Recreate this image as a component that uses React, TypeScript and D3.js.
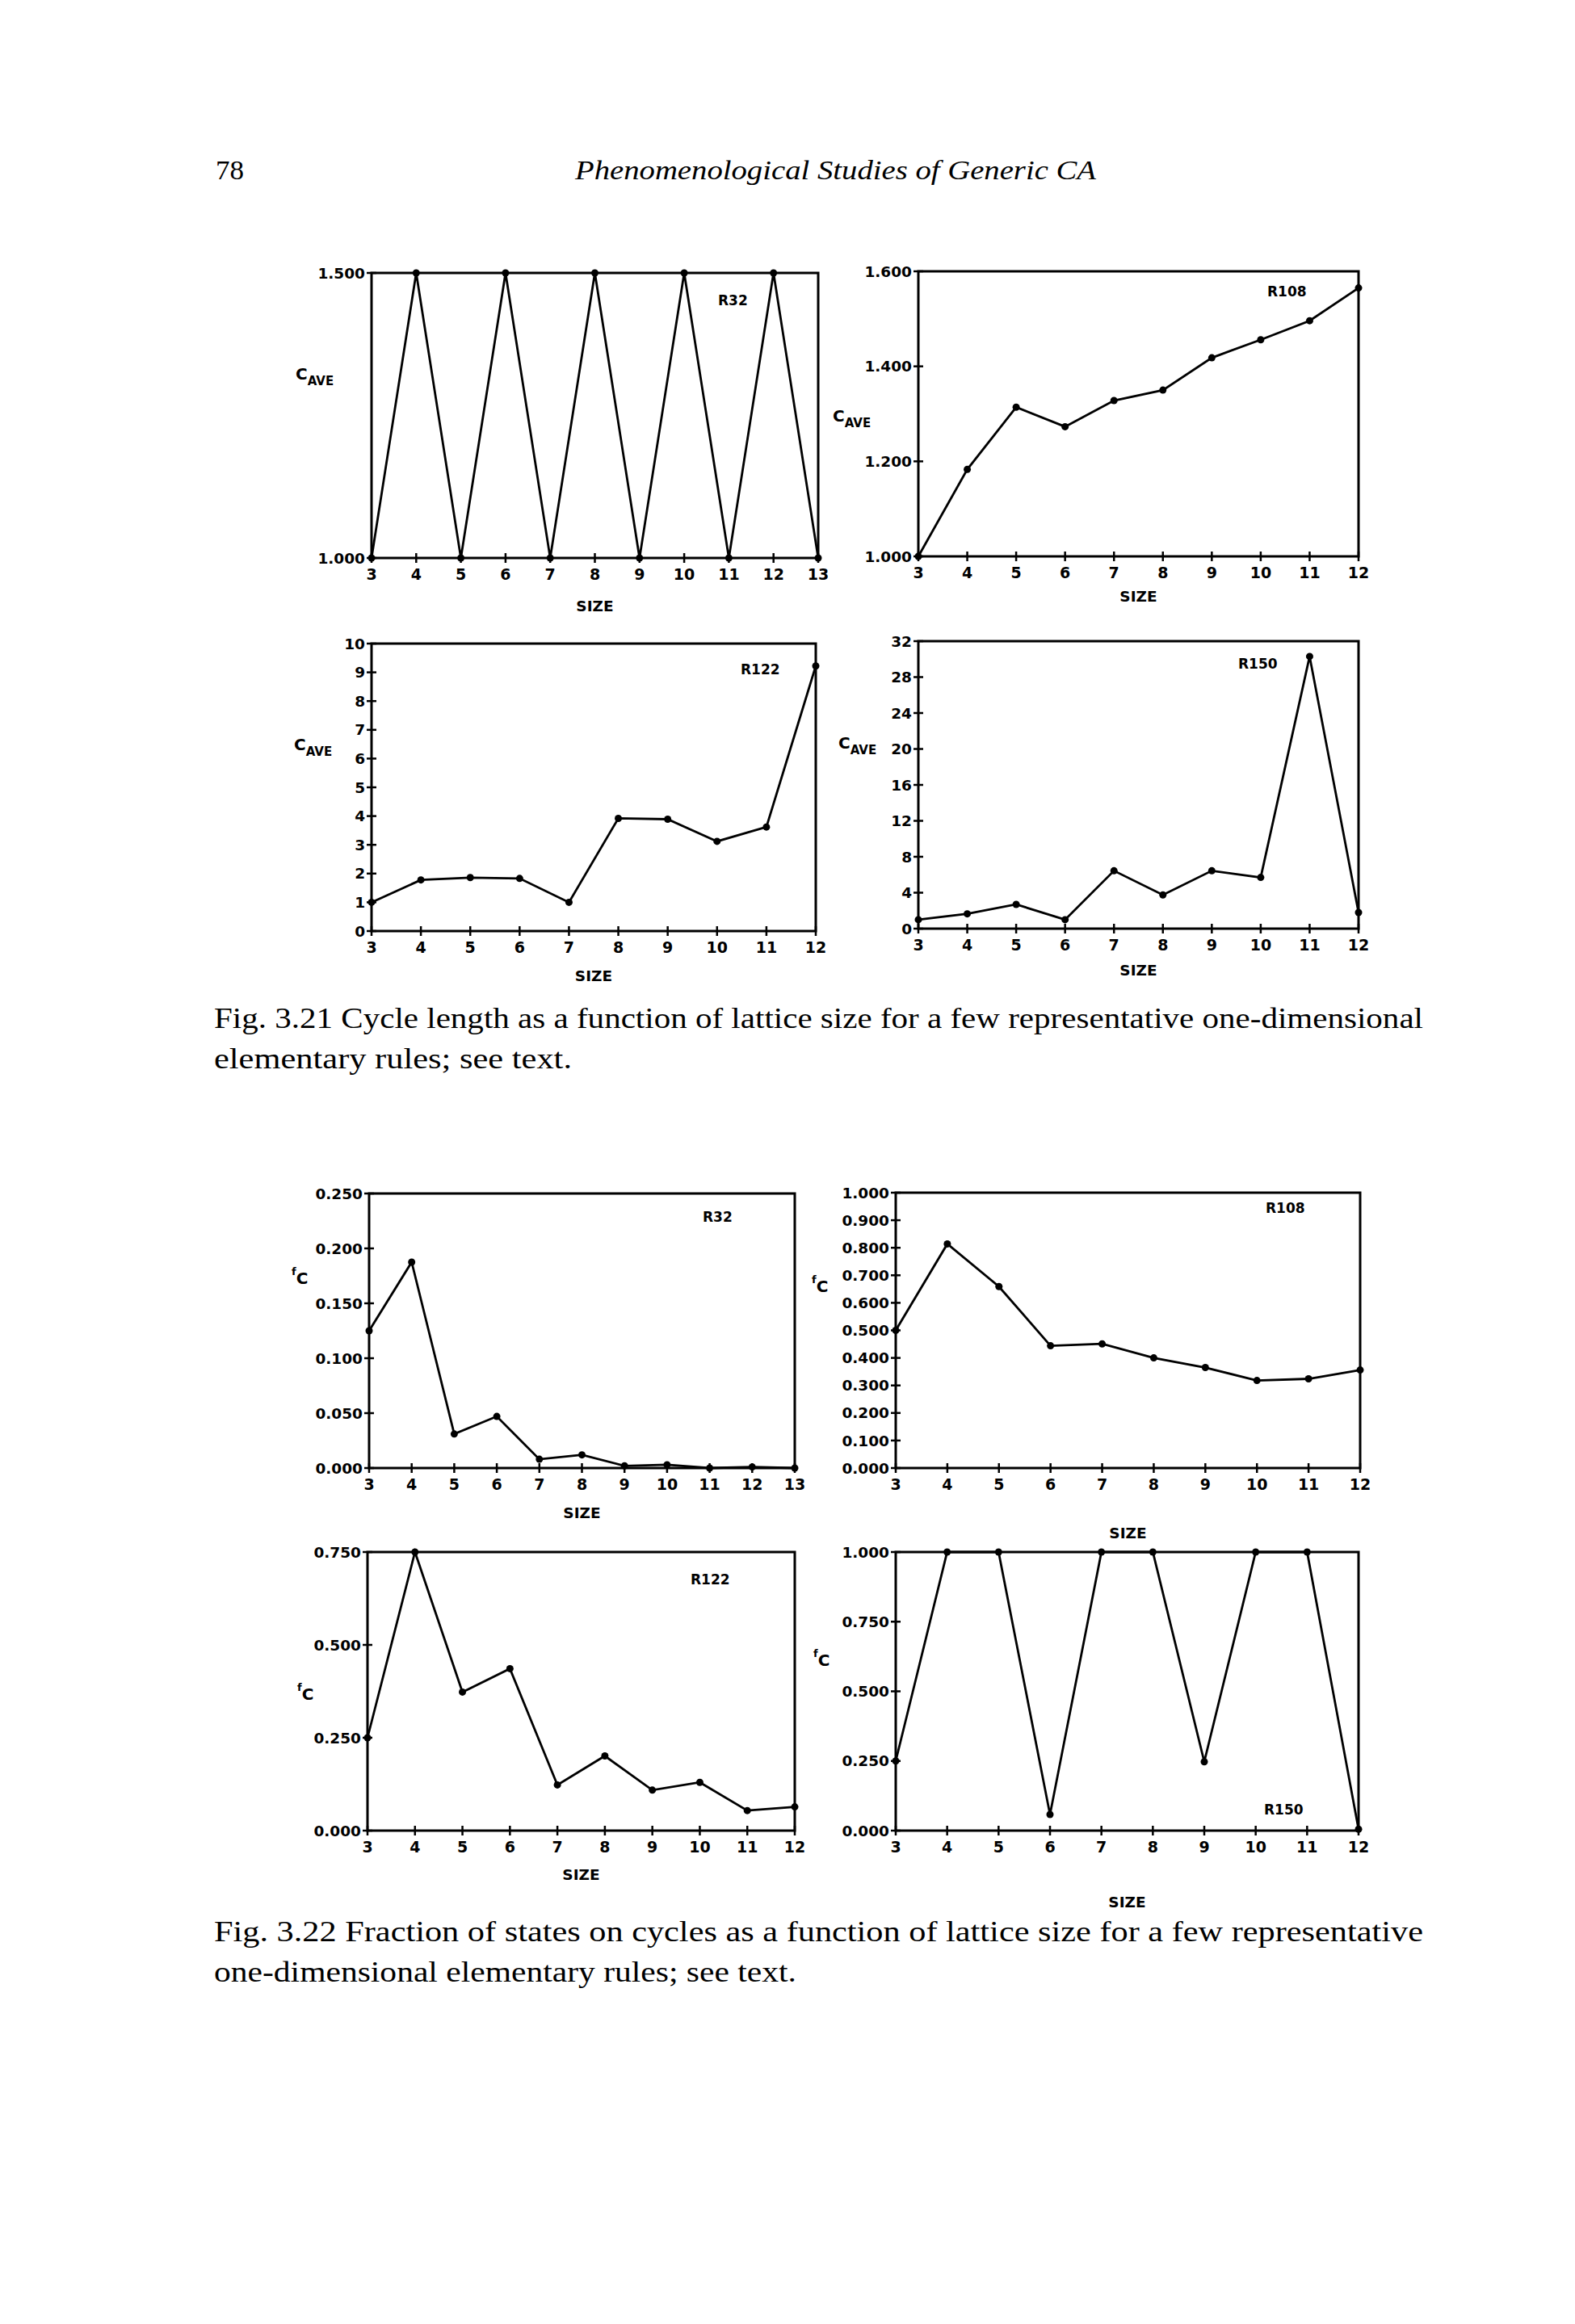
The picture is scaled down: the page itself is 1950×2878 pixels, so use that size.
import React from "react";
import * as d3 from "d3";

// ---------- data ----------
const sizes3to13 = [3, 4, 5, 6, 7, 8, 9, 10, 11, 12, 13];
const sizes3to12 = [3, 4, 5, 6, 7, 8, 9, 10, 11, 12];

// Fig 3.21 : average cycle length
const r32Cycle = [1.0, 1.5, 1.0, 1.5, 1.0, 1.5, 1.0, 1.5, 1.0, 1.5, 1.0];
const r108Cycle = [1.0, 1.183, 1.314, 1.273, 1.328, 1.35, 1.418, 1.456, 1.496, 1.565];
const r122Cycle = [1.0, 1.78, 1.86, 1.83, 1.0, 3.92, 3.89, 3.12, 3.62, 9.22];
const r150Cycle = [1.0, 1.65, 2.7, 1.0, 6.44, 3.75, 6.44, 5.7, 30.3, 1.8];

// Fig 3.22 : fraction of states on cycles
const r32Frac = [0.125, 0.1875, 0.031, 0.047, 0.008, 0.012, 0.002, 0.003, 0.0, 0.001, 0.0];
const r108Frac = [0.5, 0.814, 0.659, 0.444, 0.451, 0.4, 0.365, 0.318, 0.324, 0.356];
const r122Frac = [0.25, 0.75, 0.373, 0.436, 0.123, 0.201, 0.109, 0.13, 0.054, 0.064];
const r150Frac = [0.25, 1.0, 1.0, 0.058, 1.0, 1.0, 0.247, 1.0, 1.0, 0.005];

// tick values
const p1YTicks = [1.0, 1.5];
const p2YTicks = [1.0, 1.2, 1.4, 1.6];
const p3YTicks = [0, 1, 2, 3, 4, 5, 6, 7, 8, 9, 10];
const p4YTicks = [0, 4, 8, 12, 16, 20, 24, 28, 32];
const p5YTicks = [0, 0.05, 0.1, 0.15, 0.2, 0.25];
const p6YTicks = [0, 0.1, 0.2, 0.3, 0.4, 0.5, 0.6, 0.7, 0.8, 0.9, 1.0];
const p7YTicks = [0, 0.25, 0.5, 0.75];
const p8YTicks = [0, 0.25, 0.5, 0.75, 1.0];

const headerPage = "78";
const headerTitle = "Phenomenological Studies of Generic CA";
const caption1 = [
  "Fig. 3.21 Cycle length as a function of lattice size for a few representative one-dimensional",
  "elementary rules; see text.",
];
const caption2 = [
  "Fig. 3.22 Fraction of states on cycles as a function of lattice size for a few representative",
  "one-dimensional elementary rules; see text.",
];

const SANS = "'DejaVu Sans', sans-serif";
const SERIF = "'Liberation Serif', 'DejaVu Serif', serif";

type PanelProps = {
  left: number; right: number; top: number; bottom: number;
  xs: number[]; ys: number[];
  yDomain: [number, number];
  yTicks: number[];
  yFmt: (v: number) => string;
  yLabel: "cave" | "fc";
  yLabelX: number; yLabelY: number;
  rule: string; ruleX: number; ruleY: number;
  sizeY: number;
};

function Panel(p: PanelProps) {
  const x = d3.scaleLinear().domain([p.xs[0], p.xs[p.xs.length - 1]]).range([p.left, p.right]);
  const y = d3.scaleLinear().domain(p.yDomain).range([p.bottom, p.top]);
  const pts = p.xs.map((s, i) => [x(s), y(p.ys[i])] as [number, number]);
  const line = d3.line()(pts) || "";
  const cx = (p.left + p.right) / 2;
  return (
    <g>
      <rect x={p.left} y={p.top} width={p.right - p.left} height={p.bottom - p.top}
        fill="none" stroke="#000" strokeWidth={3} />
      {p.xs.map((s) => (
        <g key={"xt" + s}>
          <line x1={x(s)} x2={x(s)} y1={p.bottom - 6} y2={p.bottom + 6} stroke="#000" strokeWidth={2.5} />
          <text x={x(s)} y={p.bottom + 27} textAnchor="middle" fontFamily={SANS}
            fontWeight="bold" fontSize={19}>{s}</text>
        </g>
      ))}
      {p.yTicks.map((t) => (
        <g key={"yt" + t}>
          <line x1={p.left - 6} x2={p.left + 6} y1={y(t)} y2={y(t)} stroke="#000" strokeWidth={2.5} />
          <text x={p.left - 8} y={y(t)} dy="0.36em" textAnchor="end" fontFamily={SANS}
            fontWeight="bold" fontSize={18.5}>{p.yFmt(t)}</text>
        </g>
      ))}
      <path d={line} fill="none" stroke="#000" strokeWidth={2.8} strokeLinejoin="miter" />
      {pts.map((pt, i) => (
        <circle key={"pt" + i} cx={pt[0]} cy={pt[1]} r={4.5} fill="#000" />
      ))}
      <text x={p.ruleX} y={p.ruleY} fontFamily={SANS} fontWeight="bold" fontSize={17}>{p.rule}</text>
      <text x={cx} y={p.sizeY} textAnchor="middle" fontFamily={SANS} fontWeight="bold" fontSize={18.5}>SIZE</text>
      {p.yLabel === "cave" ? (
        <text x={p.yLabelX} y={p.yLabelY} fontFamily={SANS} fontWeight="bold" fontSize={20}>
          C<tspan dy={7} fontSize={15}>AVE</tspan>
        </text>
      ) : (
        <text x={p.yLabelX} y={p.yLabelY} fontFamily={SANS} fontWeight="bold" fontSize={20}>
          <tspan dy={-11} fontSize={13}>f</tspan><tspan dy={11}>C</tspan>
        </text>
      )}
    </g>
  );
}

const f3 = d3.format(".3f");
const f0 = d3.format("d");

export default function App() {
  return (
    <svg width={1950} height={2878} viewBox="0 0 1950 2878"
      style={{ position: "absolute", left: 0, top: 0, background: "#fff" }}>
      <rect x={0} y={0} width={1950} height={2878} fill="#fff" />
      <text x={267} y={222} fontFamily={SERIF} fontSize={34}
        textLength={35} lengthAdjust="spacingAndGlyphs">{headerPage}</text>
      <text x={712} y={222} fontFamily={SERIF} fontStyle="italic" fontSize={34}
        textLength={645} lengthAdjust="spacingAndGlyphs">{headerTitle}</text>

      <Panel left={460} right={1013} top={338} bottom={691} xs={sizes3to13} ys={r32Cycle}
        yDomain={[1.0, 1.5]} yTicks={p1YTicks} yFmt={f3} yLabel="cave" yLabelX={366} yLabelY={470}
        rule="R32" ruleX={889} ruleY={378} sizeY={757} />
      <Panel left={1137} right={1682} top={336} bottom={689} xs={sizes3to12} ys={r108Cycle}
        yDomain={[1.0, 1.6]} yTicks={p2YTicks} yFmt={f3} yLabel="cave" yLabelX={1031} yLabelY={522}
        rule="R108" ruleX={1569} ruleY={367} sizeY={745} />
      <Panel left={460} right={1010} top={797} bottom={1153} xs={sizes3to12} ys={r122Cycle}
        yDomain={[0, 10]} yTicks={p3YTicks} yFmt={f0} yLabel="cave" yLabelX={364} yLabelY={929}
        rule="R122" ruleX={917} ruleY={835} sizeY={1215} />
      <Panel left={1137} right={1682} top={794} bottom={1150} xs={sizes3to12} ys={r150Cycle}
        yDomain={[0, 32]} yTicks={p4YTicks} yFmt={f0} yLabel="cave" yLabelX={1038} yLabelY={927}
        rule="R150" ruleX={1533} ruleY={828} sizeY={1208} />

      {caption1.map((t, i) => (
        <text key={"c1" + i} x={265} y={1273 + i * 50} fontFamily={SERIF} fontSize={35}
          textLength={i === 0 ? 1497 : 443} lengthAdjust="spacingAndGlyphs">{t}</text>
      ))}

      <Panel left={457} right={984} top={1478} bottom={1818} xs={sizes3to13} ys={r32Frac}
        yDomain={[0, 0.25]} yTicks={p5YTicks} yFmt={f3} yLabel="fc" yLabelX={361} yLabelY={1590}
        rule="R32" ruleX={870} ruleY={1513} sizeY={1880} />
      <Panel left={1109} right={1684} top={1477} bottom={1818} xs={sizes3to12} ys={r108Frac}
        yDomain={[0, 1.0]} yTicks={p6YTicks} yFmt={f3} yLabel="fc" yLabelX={1005} yLabelY={1600}
        rule="R108" ruleX={1567} ruleY={1502} sizeY={1905} />
      <Panel left={455} right={984} top={1922} bottom={2267} xs={sizes3to12} ys={r122Frac}
        yDomain={[0, 0.75]} yTicks={p7YTicks} yFmt={f3} yLabel="fc" yLabelX={368} yLabelY={2105}
        rule="R122" ruleX={855} ruleY={1962} sizeY={2328} />
      <Panel left={1109} right={1682} top={1922} bottom={2267} xs={sizes3to12} ys={r150Frac}
        yDomain={[0, 1.0]} yTicks={p8YTicks} yFmt={f3} yLabel="fc" yLabelX={1007} yLabelY={2063}
        rule="R150" ruleX={1565} ruleY={2247} sizeY={2362} />

      {caption2.map((t, i) => (
        <text key={"c2" + i} x={265} y={2404 + i * 50} fontFamily={SERIF} fontSize={35}
          textLength={i === 0 ? 1497 : 721} lengthAdjust="spacingAndGlyphs">{t}</text>
      ))}
    </svg>
  );
}
